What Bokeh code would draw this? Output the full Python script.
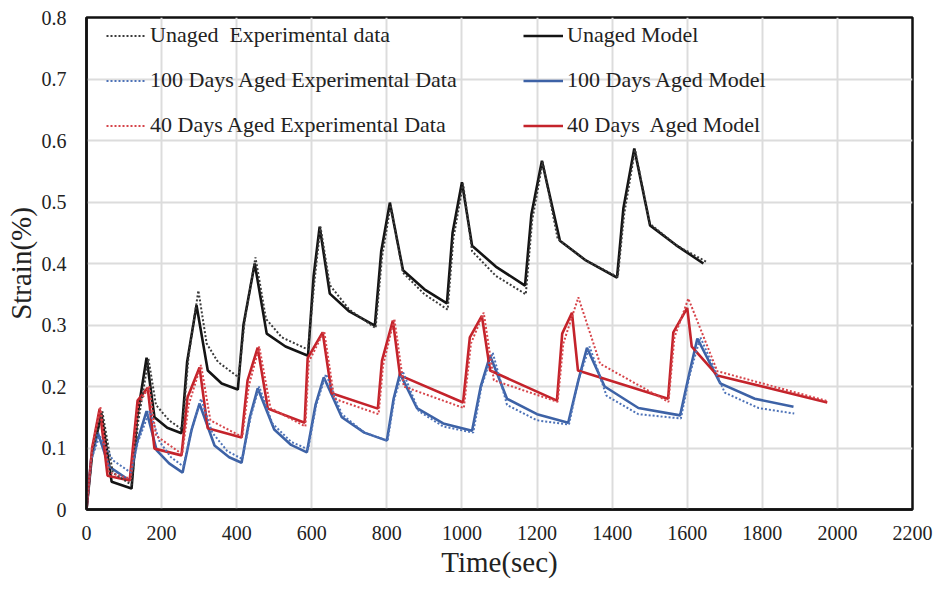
from bokeh.plotting import figure
from bokeh.models import Range1d, Legend, LegendItem, FixedTicker, NumeralTickFormatter
from bokeh.embed import file_html
from bokeh.resources import INLINE

# ---------------- data ----------------
unaged_model_t = [0, 15, 40, 67, 120, 135, 160, 181, 215, 253, 268, 293, 323, 360, 403, 418, 448, 480, 530, 590,
                  605, 621, 648, 700, 768, 785, 808, 843, 900, 960, 975, 1000, 1027, 1090, 1168, 1185, 1213, 1261,
                  1330, 1413, 1430, 1459, 1501, 1570, 1643]
unaged_model_s = [0, 0.09, 0.155, 0.045, 0.034, 0.15, 0.247, 0.15, 0.133, 0.124, 0.24, 0.332, 0.226, 0.205, 0.195,
                  0.30, 0.40, 0.286, 0.265, 0.25, 0.38, 0.46, 0.351, 0.322, 0.299, 0.42, 0.499, 0.389, 0.358, 0.335,
                  0.45, 0.532, 0.429, 0.395, 0.364, 0.48, 0.567, 0.437, 0.405, 0.377, 0.49, 0.587, 0.462, 0.43, 0.40]

unaged_exp_t = [0, 15, 42, 70, 120, 137, 165, 185, 220, 255, 272, 298, 320, 350, 405, 422, 450, 478, 520, 590,
                607, 623, 648, 700, 770, 787, 810, 843, 900, 962, 977, 1003, 1027, 1090, 1170, 1187, 1215, 1255,
                1330, 1415, 1432, 1461, 1500, 1570, 1650]
unaged_exp_s = [0, 0.09, 0.16, 0.06, 0.04, 0.14, 0.245, 0.17, 0.145, 0.13, 0.25, 0.356, 0.27, 0.24, 0.215, 0.31,
                0.41, 0.31, 0.28, 0.26, 0.37, 0.46, 0.365, 0.325, 0.295, 0.41, 0.495, 0.385, 0.35, 0.325, 0.44,
                0.53, 0.42, 0.38, 0.35, 0.47, 0.565, 0.44, 0.405, 0.378, 0.48, 0.585, 0.465, 0.43, 0.403]

aged100_model_t = [0, 12, 30, 60, 115, 135, 160, 187, 220, 256, 280, 301, 341, 380, 413, 435, 456, 500, 545, 587,
                   610, 632, 680, 740, 800, 818, 835, 880, 950, 1027, 1050, 1075, 1120, 1200, 1283, 1310, 1333,
                   1380, 1470, 1581, 1605, 1627, 1688, 1780, 1883]
aged100_model_s = [0, 0.08, 0.125, 0.07, 0.047, 0.11, 0.16, 0.096, 0.075, 0.06, 0.13, 0.172, 0.104, 0.085, 0.076,
                   0.15, 0.197, 0.13, 0.105, 0.093, 0.17, 0.215, 0.15, 0.125, 0.112, 0.18, 0.221, 0.165, 0.14,
                   0.128, 0.20, 0.25, 0.18, 0.155, 0.141, 0.21, 0.263, 0.20, 0.165, 0.153, 0.22, 0.278, 0.205,
                   0.18, 0.167]

aged100_exp_t = [0, 12, 35, 70, 118, 137, 168, 195, 225, 258, 280, 305, 335, 375, 415, 437, 460, 495, 545, 590,
                 612, 638, 680, 740, 802, 820, 842, 885, 950, 1030, 1052, 1082, 1120, 1200, 1285, 1310, 1340, 1385,
                 1470, 1583, 1607, 1635, 1700, 1790, 1885]
aged100_exp_s = [0, 0.08, 0.12, 0.08, 0.06, 0.11, 0.16, 0.11, 0.085, 0.07, 0.13, 0.18, 0.125, 0.095, 0.082, 0.15,
                 0.20, 0.14, 0.11, 0.098, 0.17, 0.22, 0.155, 0.125, 0.112, 0.18, 0.225, 0.16, 0.135, 0.125, 0.20,
                 0.255, 0.17, 0.145, 0.138, 0.21, 0.265, 0.185, 0.155, 0.148, 0.22, 0.28, 0.19, 0.165, 0.156]

aged40_model_t = [0, 15, 35, 56, 115, 136, 163, 181, 253, 269, 301, 323, 413, 429, 456, 483, 581, 589, 629, 653,
                  776, 787, 816, 835, 1003, 1021, 1053, 1075, 1253, 1267, 1293, 1309, 1549, 1563, 1600, 1612, 1680,
                  1973]
aged40_model_s = [0, 0.10, 0.164, 0.055, 0.047, 0.177, 0.198, 0.099, 0.088, 0.182, 0.231, 0.132, 0.117, 0.21,
                  0.263, 0.164, 0.141, 0.246, 0.288, 0.189, 0.164, 0.242, 0.307, 0.218, 0.174, 0.28, 0.315, 0.226,
                  0.177, 0.286, 0.32, 0.226, 0.18, 0.288, 0.328, 0.265, 0.218, 0.174]

aged40_exp_t = [0, 15, 37, 60, 118, 138, 167, 185, 255, 272, 305, 330, 415, 432, 460, 490, 583, 592, 633, 660, 778,
                790, 820, 845, 1005, 1024, 1058, 1085, 1255, 1270, 1310, 1368, 1550, 1566, 1603, 1680, 1975]
aged40_exp_s = [0, 0.10, 0.167, 0.06, 0.05, 0.17, 0.20, 0.12, 0.09, 0.17, 0.235, 0.145, 0.118, 0.20, 0.265, 0.165,
                0.135, 0.24, 0.29, 0.18, 0.155, 0.235, 0.31, 0.20, 0.165, 0.27, 0.32, 0.21, 0.175, 0.27, 0.345,
                0.237, 0.175, 0.28, 0.343, 0.225, 0.176]

x_ticks = [0, 200, 400, 600, 800, 1000, 1200, 1400, 1600, 1800, 2000, 2200]
y_ticks = [0, 0.1, 0.2, 0.3, 0.4, 0.5, 0.6, 0.7, 0.8]

labels_exp = ["Unaged  Experimental data", "100 Days Aged Experimental Data", "40 Days Aged Experimental Data"]
labels_model = ["Unaged Model", "100 Days Aged Model", "40 Days  Aged Model"]

# ---------------- figure ----------------
FONT = "Liberation Serif"
p = figure(width=936, height=589, output_backend="svg", toolbar_location=None,
           x_range=Range1d(0, 2200), y_range=Range1d(0, 0.8),
           min_border_left=86, min_border_right=24, min_border_top=17, min_border_bottom=80)
p.background_fill_color = "white"
p.border_fill_color = "white"
p.outline_line_color = "#111111"
p.outline_line_width = 2.5

for ax in (p.xaxis[0], p.yaxis[0]):
    ax.major_label_text_font = FONT
    ax.major_label_text_font_size = "20px"
    ax.major_label_text_color = "#222222"
    ax.axis_label_text_font = FONT
    ax.axis_label_text_font_style = "normal"
    ax.axis_label_text_color = "#222222"
    ax.major_tick_line_color = None
    ax.minor_tick_line_color = None
    ax.major_tick_out = 0
    ax.major_tick_in = 0
    ax.minor_tick_out = 0
    ax.minor_tick_in = 0
    ax.axis_line_color = "#111111"
    ax.axis_line_width = 2.5

p.xaxis.ticker = FixedTicker(ticks=x_ticks)
p.yaxis.ticker = FixedTicker(ticks=y_ticks)
p.yaxis.formatter = NumeralTickFormatter(format="0.[0]")
p.xaxis.axis_label = "Time(sec)"
p.yaxis.axis_label = "Strain(%)"
p.xaxis.axis_label_text_font_size = "29px"
p.yaxis.axis_label_text_font_size = "29px"
p.xaxis.major_label_standoff = 16
p.yaxis.major_label_standoff = 20
p.xaxis.axis_label_standoff = 3
p.yaxis.axis_label_standoff = 2

p.xgrid.grid_line_color = "#dcdcdc"
p.ygrid.grid_line_color = "#dcdcdc"
p.xgrid.grid_line_width = 2
p.ygrid.grid_line_width = 2

BLACK, BLUE, RED = "#141414", "#3d62a6", "#c4232b"
BLACK_D, BLUE_D, RED_D = "#3a3a3a", "#4e73b8", "#d6444a"

m_un = p.line(unaged_model_t, unaged_model_s, line_color=BLACK, line_width=2.6)
m_100 = p.line(aged100_model_t, aged100_model_s, line_color=BLUE, line_width=2.6)
m_40 = p.line(aged40_model_t, aged40_model_s, line_color=RED, line_width=2.6)
e_un = p.line(unaged_exp_t, unaged_exp_s, line_color=BLACK_D, line_width=2, line_dash="2 2")
e_100 = p.line(aged100_exp_t, aged100_exp_s, line_color=BLUE_D, line_width=2, line_dash="2 2")
e_40 = p.line(aged40_exp_t, aged40_exp_s, line_color=RED_D, line_width=2, line_dash="2 2")


def make_legend(labels, renderers, loc):
    lg = Legend(items=[LegendItem(label=l, renderers=[r]) for l, r in zip(labels, renderers)],
                location=loc, orientation="vertical",
                label_text_font=FONT, label_text_font_size="22px", label_text_color="#222222",
                glyph_width=40, glyph_height=25, label_height=25, label_standoff=4,
                spacing=19, padding=0, margin=0,
                background_fill_alpha=0, border_line_alpha=0)
    return lg


p.add_layout(make_legend(labels_exp, [e_un, e_100, e_40], (20, 371)))
p.add_layout(make_legend(labels_model, [m_un, m_100, m_40], (437, 371)))

open("out.html", "w").write(file_html(p, INLINE))
